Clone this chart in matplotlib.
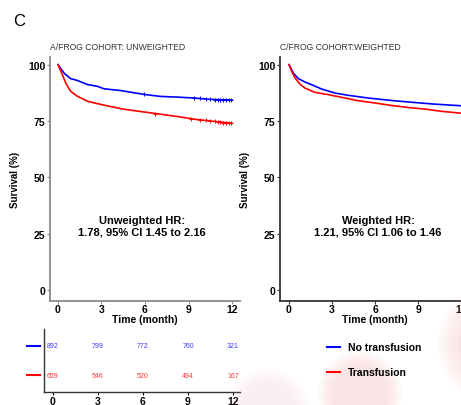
import matplotlib
matplotlib.use("Agg")
import matplotlib.pyplot as plt
from matplotlib.lines import Line2D
from matplotlib.patches import Ellipse

plt.rcParams['font.family'] = ['Liberation Sans', 'DejaVu Sans']

# survival curves (time in months, survival in %)
unw_t_blue = [0, 0.41, 0.87, 1.33, 2.02, 2.71, 3.17, 4.32, 5.93, 7.08, 8.23, 9.38, 10.5, 12.0]
unw_s_blue = [100, 96.3, 93.8, 93.0, 91.2, 90.4, 89.3, 88.5, 86.8, 85.9, 85.6, 85.2, 84.6, 84.3]
unw_t_red = [0, 0.3, 0.53, 0.87, 1.33, 2.02, 2.71, 3.63, 4.55, 5.93, 7.08, 8.23, 9.38, 10.5, 12.0]
unw_s_red = [100, 95.6, 91.9, 88.2, 86.0, 83.8, 82.7, 81.4, 80.2, 79.0, 78.0, 77.0, 75.8, 75.0, 74.0]

w_t_blue = [0, 0.3, 0.65, 1.11, 1.58, 2.27, 3.19, 4.12, 5.51, 7.13, 8.75, 10.1, 11.9, 12.0]
w_s_blue = [100, 96.3, 93.8, 92.3, 91.1, 89.2, 87.4, 86.4, 85.2, 84.1, 83.2, 82.5, 81.8, 81.7]
w_t_red = [0, 0.19, 0.42, 0.76, 1.11, 1.81, 2.73, 3.66, 4.81, 5.97, 7.13, 8.28, 9.44, 10.6, 11.9, 12.0]
w_s_red = [100, 97.0, 94.1, 91.4, 89.6, 87.7, 86.7, 85.5, 84.0, 83.0, 81.9, 81.0, 80.3, 79.3, 78.5, 78.4]

# censor marks on the unweighted curves
cens_blue_t = [5.9, 9.4, 9.8, 10.2, 10.5, 10.8, 11.0, 11.2, 11.4, 11.6, 11.8, 11.95]
cens_blue_s = [86.8, 85.2, 85.0, 84.8, 84.6, 84.5, 84.5, 84.4, 84.4, 84.3, 84.3, 84.3]
cens_red_t = [6.7, 9.2, 9.8, 10.2, 10.5, 10.8, 11.0, 11.2, 11.4, 11.6, 11.8, 11.95]
cens_red_s = [78.3, 76.0, 75.6, 75.3, 75.0, 74.8, 74.6, 74.5, 74.3, 74.2, 74.1, 74.0]

# numbers at risk
risk_times = [0, 3, 6, 9, 12]
risk_blue = [892, 799, 772, 760, 321]
risk_red = [659, 546, 520, 494, 167]

ticks_x = [0, 3, 6, 9, 12]
ticks_y = [0, 25, 50, 75, 100]

BLUE = "#0000ff"
RED = "#ff0000"
W, H = 461, 406

fig = plt.figure(figsize=(W / 100, H / 100), dpi=100)


def box(x0, y_top, x1, y_bot):
    # pixel box -> figure fraction
    return [x0 / W, 1 - y_bot / H, (x1 - x0) / W, (y_bot - y_top) / H]


# soft pink background blobs
for cx, cy, r, a in [(360, 394, 42, 0.06), (500, 345, 62, 0.06), (268, 412, 42, 0.03)]:
    for k in range(5):
        rr = r * (1 - k * 0.08)
        fig.patches.append(Ellipse((cx / W, 1 - cy / H), 2 * rr / W, 2 * rr / H,
                                   transform=fig.transFigure, facecolor="#f29aa3",
                                   edgecolor="none", alpha=a, zorder=0))


def km_panel(ax, tb, sb, tr, sr, spine_col, title, hr_text, hr_x):
    ax.plot(tb, sb, color=BLUE, lw=1.2)
    ax.plot(tr, sr, color=RED, lw=1.2)
    ax.set_ylim(-4.9, 103.4)
    ax.set_xticks(ticks_x)
    ax.set_yticks(ticks_y)
    for s in ["top", "right"]:
        ax.spines[s].set_visible(False)
    for s in ["left", "bottom"]:
        ax.spines[s].set_color(spine_col)
        ax.spines[s].set_linewidth(1.3)
    ax.tick_params(axis="y", length=2, width=0.8, color=spine_col, pad=1.5)
    ax.tick_params(axis="x", length=2, width=0.8, color=spine_col, pad=0.3)
    for lab in ax.get_xticklabels() + ax.get_yticklabels():
        lab.set_fontweight("bold")
        lab.set_fontsize(7.5)
    ax.set_xlabel("Time (month)", fontsize=7.5, fontweight="bold")
    ax.xaxis.set_label_coords(0.5, -0.052)
    ax.set_ylabel("Survival (%)", fontsize=7, fontweight="bold")
    ax.yaxis.set_label_coords(-0.158, 0.5)
    ax.text(0.0, 1.045, title, transform=ax.transAxes, fontsize=6.2, color="#333333",
            ha="left", va="center")
    ax.text(hr_x, 28.5, hr_text, ha="center", va="center", fontsize=8,
            fontweight="bold", linespacing=1.1)


ax1 = fig.add_axes(box(50, 58, 240, 302))
ax1.set_xlim(-0.55, 12.55)
km_panel(ax1, unw_t_blue, unw_s_blue, unw_t_red, unw_s_red, "#8a8a8a",
         "A/FROG COHORT: UNWEIGHTED", "Unweighted HR:\n1.78, 95% CI 1.45 to 2.16", 5.8)
ax1.plot(cens_blue_t, cens_blue_s, ls="none", marker="+", ms=3.5, mew=0.7, color=BLUE)
ax1.plot(cens_red_t, cens_red_s, ls="none", marker="+", ms=3.5, mew=0.7, color=RED)

ax2 = fig.add_axes(box(280, 58, 470, 302))
ax2.set_xlim(-0.625, 12.6)
km_panel(ax2, w_t_blue, w_s_blue, w_t_red, w_s_red, "#333333",
         "C/FROG COHORT:WEIGHTED", "Weighted HR:\n1.21, 95% CI 1.06 to 1.46", 6.2)

# risk table
ax3 = fig.add_axes(box(44, 330, 240, 393))
ax3.set_xlim(-0.6, 12.47)
ax3.set_ylim(0.42, 2.57)
for t, nb, nr in zip(risk_times, risk_blue, risk_red):
    ax3.text(t, 2, str(nb), color="#3a3aff", fontsize=5, ha="center", va="center")
    ax3.text(t, 1, str(nr), color="#ff3a3a", fontsize=5, ha="center", va="center")
ax3.plot([-1.73, -0.87], [2, 2], color=BLUE, lw=1.5, clip_on=False)
ax3.plot([-1.73, -0.87], [1, 1], color=RED, lw=1.5, clip_on=False)
ax3.set_xticks(risk_times)
ax3.set_yticks([])
for s in ["top", "right"]:
    ax3.spines[s].set_visible(False)
for s in ["left", "bottom"]:
    ax3.spines[s].set_color("#333333")
    ax3.spines[s].set_linewidth(1.0)
ax3.tick_params(length=2, width=0.8, pad=1)
for lab in ax3.get_xticklabels():
    lab.set_fontweight("bold")
    lab.set_fontsize(7.5)

# legend
handles = [Line2D([], [], color=BLUE, lw=1.5), Line2D([], [], color=RED, lw=1.5)]
fig.legend(handles, ["No transfusion", "Transfusion"], loc="upper left",
           bbox_to_anchor=(318 / W, 1 - 334 / H), frameon=False,
           prop={"size": 7.5, "weight": "bold"}, handlelength=1.2,
           handletextpad=0.75, labelspacing=1.45)

fig.text(13 / W, 1 - 21 / H, "C", fontsize=12, ha="left", va="center")

fig.savefig("out.png", dpi=100)
